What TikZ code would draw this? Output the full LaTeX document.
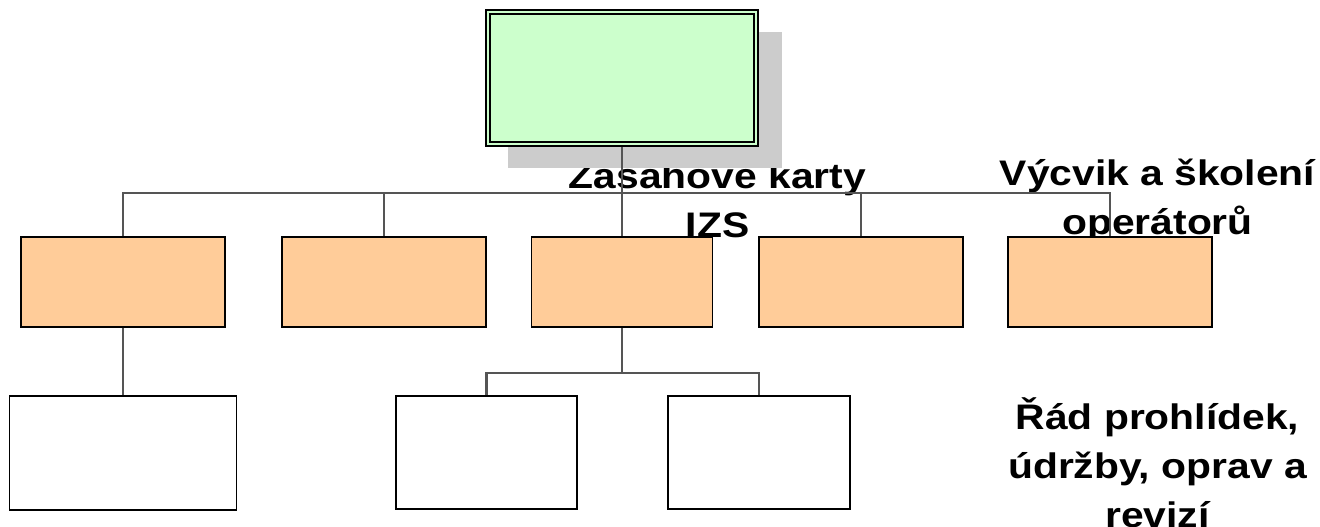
\documentclass[tikz,border=0pt]{standalone}
\usepackage{fontspec}
\setmainfont{Liberation Sans}[FakeStretch=1.15]
\definecolor{greenfill}{HTML}{CCFFCC}
\definecolor{orangefill}{HTML}{FFCC99}
\definecolor{shadowgray}{HTML}{CCCCCC}
\definecolor{linegray}{HTML}{555555}
\begin{document}
\begin{tikzpicture}[x=1pt,y=-1pt,
  conn/.style={draw=linegray, line width=2.8pt},
  obox/.style={draw=black, fill=orangefill, line width=1.8pt, minimum height=90pt, inner sep=0pt},
  wbox/.style={draw=black, fill=white, line width=1.8pt, inner sep=0pt},
  lbl/.style={align=center, font=\fontsize{35.5}{49}\selectfont\bfseries, inner sep=0pt}]
\useasboundingbox (0,0) rectangle (1320,527);
\clip (0,0) rectangle (1320,527);
% labels (partly hidden by the chart)
\begin{scope}
  \clip (0,0) rectangle (1320,237);
  \node[lbl, anchor=base] (lz) at (717.5,237) {Zásahové karty\\IZS};
  \node[lbl, anchor=base] (lv) at (1157.5,234) {Výcvik a školení\\operátorů};
\end{scope}
\node[lbl, anchor=base] (lr) at (1157.5,527) {Řád prohlídek,\\údržby, oprav a\\revizí};
% top box with shadow
\fill[shadowgray] (508,32) rectangle (782,168);
\node[draw=black, fill=greenfill, line width=1.5pt, minimum width=272pt, minimum height=136pt, inner sep=0pt] (top) at (622,78) {};
\draw[black, line width=2pt] ([shift={(5,5)}]top.north west) rectangle ([shift={(-5,-5)}]top.south east);
% second level
\node[obox, minimum width=204pt] (b1) at (123,282) {};
\node[obox, minimum width=204pt] (b2) at (384,282) {};
\node[obox, minimum width=181pt] (b3) at (622,282) {};
\node[obox, minimum width=204pt] (b4) at (861,282) {};
\node[obox, minimum width=204pt] (b5) at (1110,282) {};
% third level
\node[wbox, minimum width=227pt, minimum height=114pt] (c1) at (123,453) {};
\node[wbox, minimum width=181pt, minimum height=113pt] (c2) at (486.5,452.5) {};
\node[wbox, minimum width=182pt, minimum height=113pt] (c3) at (759,452.5) {};
% connectors
\coordinate (bus) at (0,193);
\coordinate (sub) at (0,373);
\draw[conn] (top.south) -- (top.south |- bus);
\draw[conn] (b1.north) |- (b5.north |- bus) -- (b5.north);
\draw[conn] (b2.north) -- (b2.north |- bus);
\draw[conn] (b3.north) -- (b3.north |- bus);
\draw[conn] (b4.north) -- (b4.north |- bus);
\draw[conn] (b1.south) -- (c1.north);
\draw[conn] (b3.south) -- (b3.south |- sub);
\draw[conn] (c2.north) |- (c3.north |- sub) -- (c3.north);
\end{tikzpicture}
\end{document}
